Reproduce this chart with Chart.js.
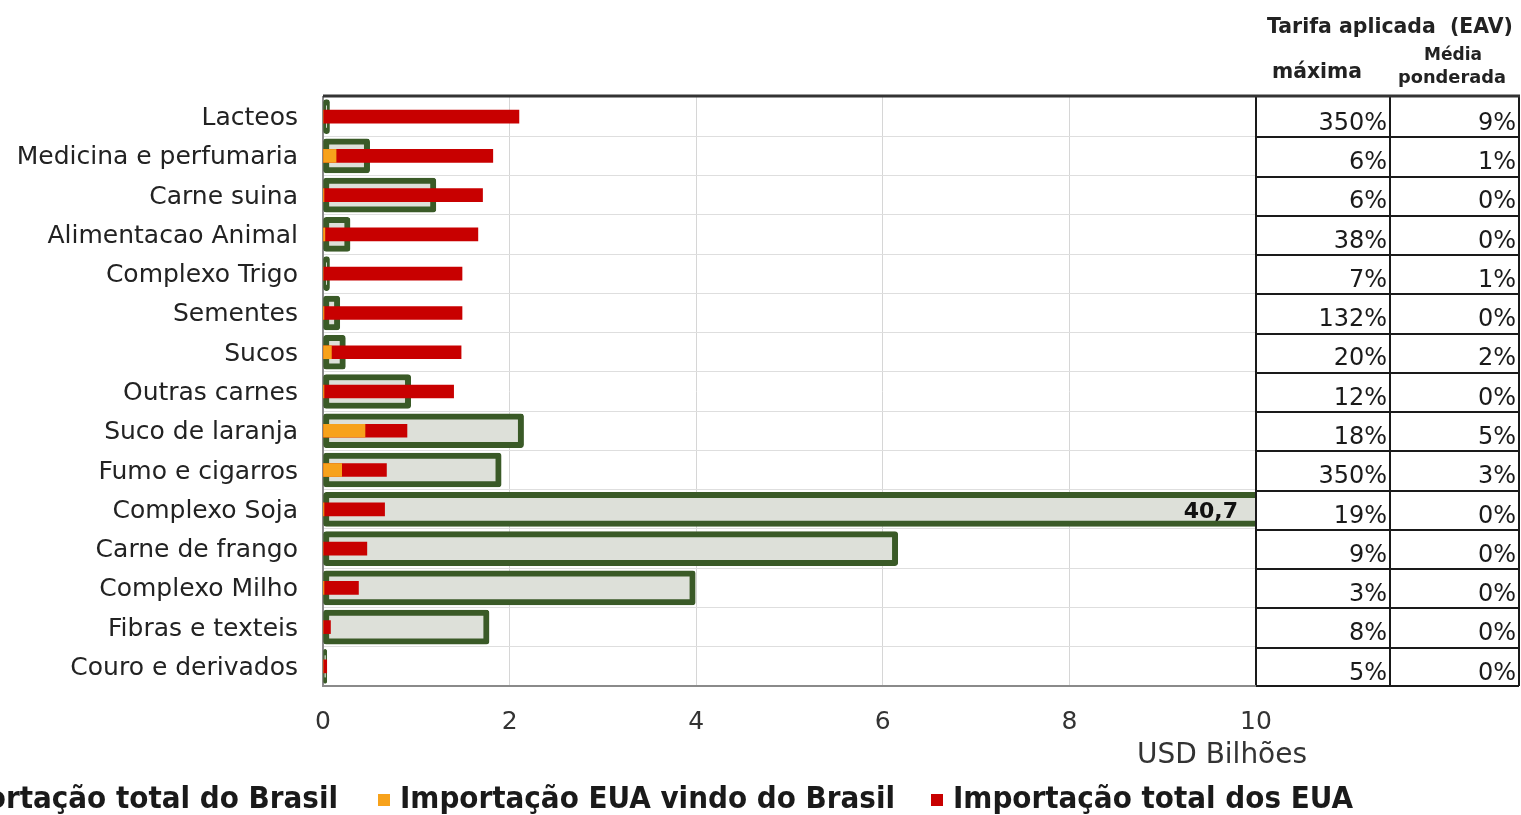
<!DOCTYPE html>
<html><head><meta charset="utf-8">
<script src="https://cdn.jsdelivr.net/npm/chart.js@4"></script>
<style>html,body{margin:0;padding:0;background:#fff;overflow:hidden}#wrap{position:relative;width:1521px;height:815px}</style>
</head><body><div id="wrap"><canvas id="c" width="1521" height="815"></canvas></div>
<script>
const categories = ['Lacteos','Medicina e perfumaria','Carne suina','Alimentacao Animal','Complexo Trigo','Sementes','Sucos','Outras carnes','Suco de laranja','Fumo e cigarros','Complexo Soja','Carne de frango','Complexo Milho','Fibras e texteis','Couro e derivados'];
const exportTotalBrasil = [0.07, 0.5, 1.21, 0.29, 0.07, 0.18, 0.24, 0.94, 2.15, 1.91, 40.7, 6.16, 3.99, 1.78, 0.04];
const importEUAdoBrasil = [0, 0.14, 0.01, 0.02, 0, 0.01, 0.09, 0.01, 0.45, 0.2, 0.01, 0, 0.01, 0, 0];
const importTotalEUA = [2.1, 1.82, 1.71, 1.66, 1.49, 1.49, 1.48, 1.40, 0.9, 0.68, 0.66, 0.47, 0.38, 0.08, 0.04];
const tarifaMaxima = ['350%','6%','6%','38%','7%','132%','20%','12%','18%','350%','19%','9%','3%','8%','5%'];
const tarifaMedia = ['9%','1%','0%','0%','1%','0%','2%','0%','5%','3%','0%','0%','0%','0%','0%'];
const xTickValues = [0, 2, 4, 6, 8, 10];
const seriesNames = ['Exportação total do Brasil', 'Importação EUA vindo do Brasil', 'Importação total dos EUA'];
const labelValue = 40.7;

const C_GREEN = '#3a5a27', C_GREENFILL = '#dde0d9', C_RED = '#c80000', C_ORANGE = '#f7a21b';
const FONT = "'DejaVu Sans', Verdana, sans-serif";

function fitFont(ctx, text, width, weight, family, base) {
  let size = base;
  ctx.font = weight + ' ' + size + 'px ' + family;
  const w = ctx.measureText(text).width;
  size = size * width / w;
  ctx.font = weight + ' ' + size.toFixed(2) + 'px ' + family;
  return size;
}

const overlay = {
  id: 'overlay',
  afterDatasetsDraw(chart) {
    const ctx = chart.ctx, x = chart.scales.x, y = chart.scales.y;
    const idx = exportTotalBrasil.indexOf(labelValue);
    ctx.save();
    ctx.fillStyle = '#111';
    ctx.font = 'bold 22px ' + FONT;
    ctx.textAlign = 'right'; ctx.textBaseline = 'middle';
    ctx.fillText(String(labelValue).replace('.', ','), x.right - 18, y.getPixelForValue(idx) + 3);
    ctx.restore();
  },
  afterDraw(chart) {
    const ctx = chart.ctx, x = chart.scales.x, y = chart.scales.y, a = chart.chartArea;
    const tRight = 1519, tMid = 1390;
    ctx.save();
    ctx.strokeStyle = '#1a1a1a'; ctx.lineWidth = 2;
    const n = categories.length;
    const step = (a.bottom - a.top) / n;
    for (let i = 1; i < n; i++) {
      const yy = Math.round(a.top + i * step) + 1;
      ctx.beginPath(); ctx.moveTo(a.right, yy); ctx.lineTo(tRight, yy); ctx.stroke();
    }
    [a.right, tMid, tRight].forEach(xx => {
      ctx.beginPath(); ctx.moveTo(xx, a.top); ctx.lineTo(xx, a.bottom); ctx.stroke();
    });
    ctx.beginPath(); ctx.moveTo(a.right, a.bottom); ctx.lineTo(tRight, a.bottom); ctx.stroke();
    ctx.strokeStyle = '#333'; ctx.lineWidth = 3;
    ctx.beginPath(); ctx.moveTo(a.left, a.top - 1); ctx.lineTo(tRight + 1, a.top - 1); ctx.stroke();
    ctx.strokeStyle = '#8a8a8a'; ctx.lineWidth = 2;
    ctx.beginPath(); ctx.moveTo(a.left, a.bottom); ctx.lineTo(a.right, a.bottom); ctx.stroke();

    ctx.fillStyle = '#1a1a1a';
    ctx.font = '24px ' + FONT;
    ctx.textAlign = 'right'; ctx.textBaseline = 'middle';
    for (let i = 0; i < n; i++) {
      const cy = y.getPixelForValue(i) + 7;
      ctx.fillText(tarifaMaxima[i], tMid - 3, cy);
      ctx.fillText(tarifaMedia[i], tRight - 3, cy);
    }
    ctx.textAlign = 'left'; ctx.fillStyle = '#222';
    fitFont(ctx, 'Tarifa aplicada  (EAV)', 246, 'bold', FONT, 18);
    ctx.fillText('Tarifa aplicada  (EAV)', 1267, 28);
    fitFont(ctx, 'máxima', 90, 'bold', FONT, 18);
    ctx.fillText('máxima', 1272, 73);
    fitFont(ctx, 'Média', 58, 'bold', FONT, 16);
    ctx.fillText('Média', 1424, 56);
    fitFont(ctx, 'ponderada', 108, 'bold', FONT, 16);
    ctx.fillText('ponderada', 1398, 78);

    ctx.fillStyle = '#333';
    fitFont(ctx, 'USD Bilhões', 170, 'normal', FONT, 24);
    ctx.fillText('USD Bilhões', 1137, 756);

    const colors = [C_GREEN, C_ORANGE, C_RED];
    const textX = [null, 400, 953];
    const fam = "'DejaVu Sans Condensed', " + FONT;
    fitFont(ctx, seriesNames[2], 400, 'bold', fam, 24);
    ctx.textBaseline = 'middle';
    const ly = 800;
    const w0 = ctx.measureText(seriesNames[0]).width;
    const x0 = 338 - w0;
    ctx.fillStyle = colors[0]; ctx.fillRect(x0 - 22, ly - 6, 12, 12);
    ctx.fillStyle = '#1a1a1a'; ctx.textAlign = 'left';
    ctx.fillText(seriesNames[0], x0, ly);
    for (let i = 1; i < 3; i++) {
      ctx.fillStyle = colors[i]; ctx.fillRect(textX[i] - 22, ly - 6, 12, 12);
      ctx.fillStyle = '#1a1a1a';
      ctx.fillText(seriesNames[i], textX[i], ly);
    }
    ctx.restore();
  }
};

new Chart(document.getElementById('c'), {
  type: 'bar',
  data: {
    labels: categories,
    datasets: [
      { label: seriesNames[0], data: exportTotalBrasil, backgroundColor: C_GREENFILL, borderColor: C_GREEN,
        borderWidth: 6, borderSkipped: false, borderRadius: 3, barThickness: 34, grouped: false, order: 3, clip: 0 },
      { label: seriesNames[1], data: importEUAdoBrasil, backgroundColor: C_ORANGE, borderWidth: 0,
        barThickness: 13, grouped: false, order: 1, clip: 0 },
      { label: seriesNames[2], data: importTotalEUA, backgroundColor: C_RED, borderWidth: 0,
        barThickness: 13, grouped: false, order: 2, clip: 0 }
    ]
  },
  options: {
    indexAxis: 'y',
    responsive: false,
    animation: false,
    devicePixelRatio: 1,
    layout: { padding: { left: 0, right: 265, top: 97, bottom: 0 } },
    plugins: { legend: { display: false }, tooltip: { enabled: false }, title: { display: false } },
    scales: {
      x: {
        type: 'linear', min: 0, max: 10,
        afterBuildTicks: s => { s.ticks = xTickValues.map(v => ({ value: v })); },
        afterFit: s => { s.height = 129; },
        grid: { color: ctx => (ctx.tick && (ctx.tick.value === 0 || ctx.tick.value === 10)) ? 'rgba(0,0,0,0)' : '#d6d6d6', lineWidth: 1, drawTicks: false },
        border: { display: false },
        ticks: { color: '#333', font: { family: FONT, size: 25 }, padding: 21, maxRotation: 0 }
      },
      y: {
        type: 'category',
        afterFit: s => { s.width = 323; },
        grid: { color: '#dedede', lineWidth: 1, offset: true, drawTicks: false },
        border: { display: true, color: '#8a8a8a', width: 2 },
        ticks: { color: '#222', font: { family: FONT, size: 25 }, padding: 25, autoSkip: false, labelOffset: 2 }
      }
    }
  },
  plugins: [overlay]
});
</script>
</body></html>
